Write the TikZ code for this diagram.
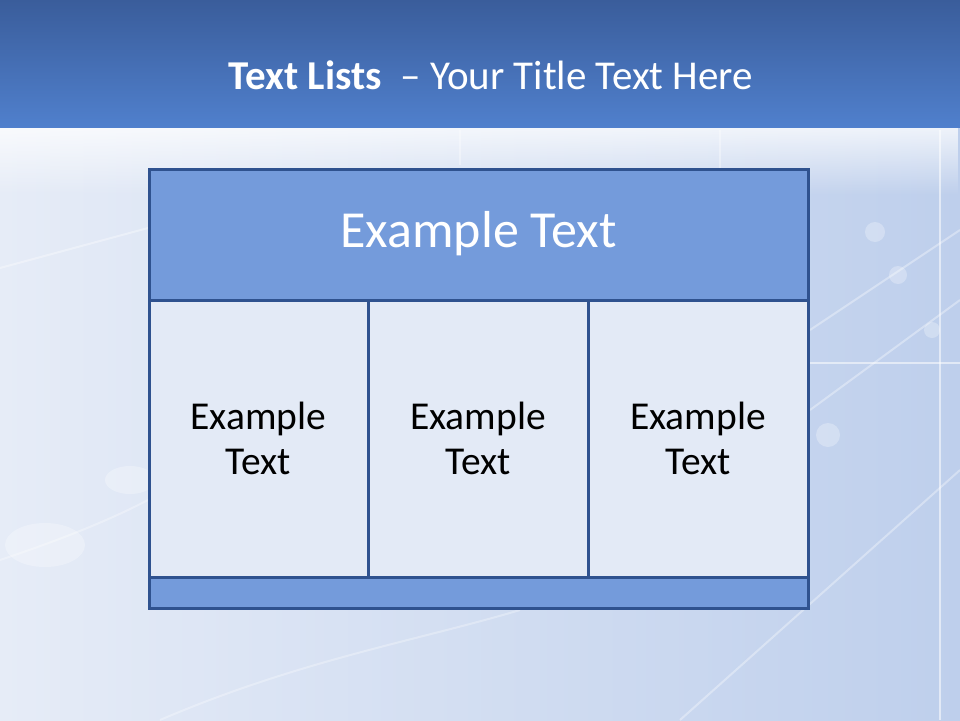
\documentclass[tikz,border=0pt]{standalone}
\usepackage{fontspec}
\setmainfont{Carlito}
\usetikzlibrary{fadings}
\definecolor{bordc}{RGB}{47,82,143}
\definecolor{headc}{RGB}{116,155,219}
\definecolor{cellc}{RGB}{227,234,246}
\definecolor{topc}{RGB}{58,93,155}
\definecolor{midc}{RGB}{80,128,205}
\definecolor{bgl}{RGB}{230,236,247}
\definecolor{bgr}{RGB}{190,207,236}
\tikzset{
  panel/.style={draw=bordc, line width=3pt},
  headbox/.style={panel, fill=headc},
  cellbox/.style={panel, fill=cellc},
  celltext/.style={font=\fontsize{39.5}{45}\selectfont, align=center, text=black},
  headtext/.style={font=\fontsize{52}{60}\selectfont, text=white},
  deco/.style={white, line width=2pt, opacity=0.55},
  blob/.style={white, opacity=0.28}
}
\begin{document}
\begin{tikzpicture}[x=1pt,y=-1pt]
\useasboundingbox (0,0) rectangle (960,720);
% background
\shade[top color=topc, bottom color=midc] (0,0) rectangle (960,128);
\shade[left color=bgl, right color=bgr] (0,128) rectangle (960,720);
\fill[white, path fading=south, opacity=0.75] (0,128) rectangle (960,195);
\fill[midc, path fading=north, opacity=0.5] (0,110) rectangle (960,128);
% decorative lines
\draw[deco] (940,130) -- (940,720);
\draw[deco] (810,363) -- (960,363);
\draw[deco, opacity=0.35] (720,130) -- (720,170);
\draw[deco, opacity=0.35] (460,130) -- (460,165);
\draw[deco, opacity=0.35] (0,268) -- (148,228);
\draw[deco, opacity=0.35] (810,410) -- (960,300);
\draw[deco, opacity=0.35] (810,330) -- (960,230);
\draw[deco, opacity=0.35] (680,720) -- (960,470);
\draw[deco, opacity=0.3] (0,560) .. controls (60,540) and (110,520) .. (148,500);
\draw[deco, opacity=0.3] (160,720) .. controls (300,660) and (420,640) .. (520,610);
\fill[blob] (875,232) circle (10);
\fill[blob] (898,275) circle (9);
\fill[blob] (932,330) circle (8);
\fill[blob] (828,435) circle (12);
\fill[blob] (45,545) ellipse (40 and 22);
\fill[blob] (130,480) ellipse (25 and 14);
% title
\node (title) at (491,75) {\fontsize{41}{50}\selectfont\color{white}\textbf{Text Lists}\ \ – Your Title Text Here};
% table
\draw[headbox] (149,169) rectangle (808,300);
\node[headtext] (head) at (478.5,234) {Example Text};
\draw[cellbox] (149,300) rectangle (368,577);
\draw[cellbox] (368,300) rectangle (588,577);
\draw[cellbox] (588,300) rectangle (808,577);
\draw[headbox] (149,577) rectangle (808,608);
\node[celltext] (c1) at (258.5,438) {Example\\Text};
\node[celltext] (c2) at (478,438) {Example\\Text};
\node[celltext] (c3) at (698,438) {Example\\Text};
\end{tikzpicture}
\end{document}
